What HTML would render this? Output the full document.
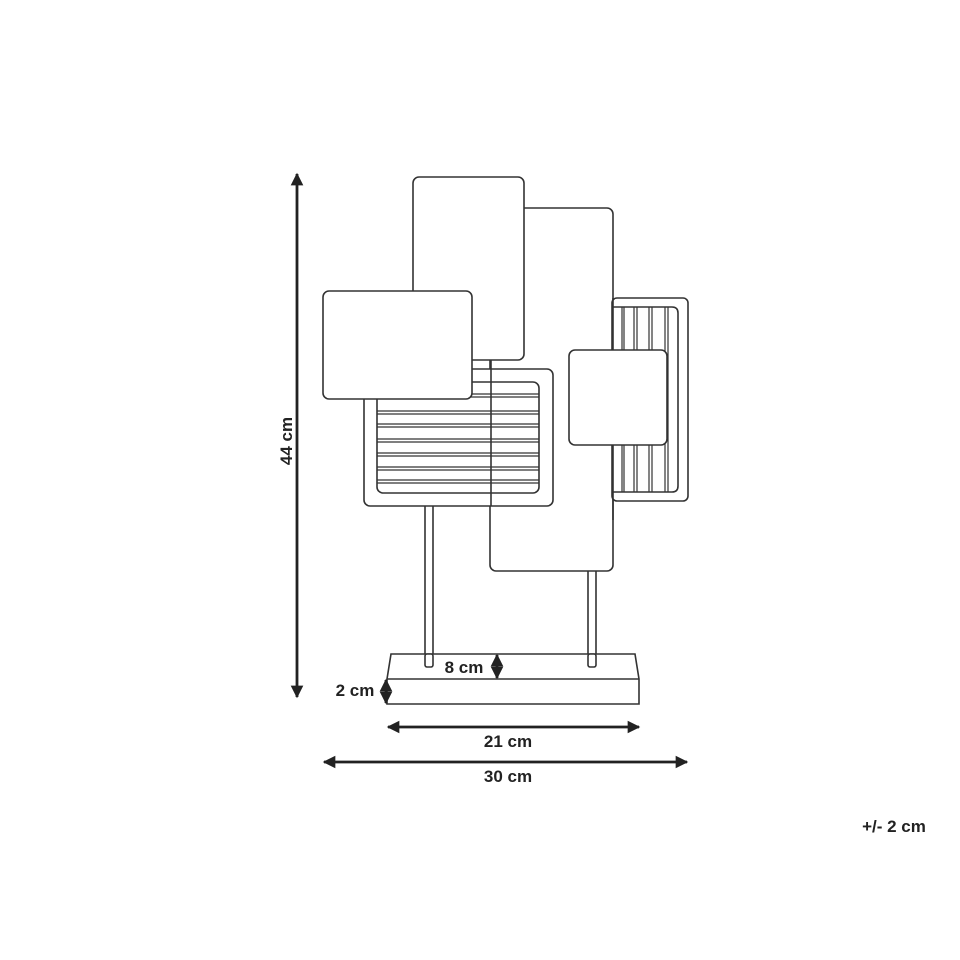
<!DOCTYPE html>
<html><head><meta charset="utf-8"><style>
html,body{margin:0;padding:0;background:#fff;}
svg{display:block;}
text{font-family:"Liberation Sans",sans-serif;font-weight:bold;fill:#222;}
</style></head><body>
<svg width="960" height="960" viewBox="0 0 960 960" xmlns="http://www.w3.org/2000/svg">
<defs>
<marker id="ah" viewBox="0 0 10 10" refX="9" refY="5" markerWidth="4.5" markerHeight="4.5" orient="auto-start-reverse"><path d="M0,0 L10,5 L0,10 z" fill="#222"/></marker>
</defs>
<g fill="none" stroke="#333" stroke-width="1.6">
<rect x="425" y="500" width="8" height="167" rx="3" fill="#fff"/>
<rect x="588" y="560" width="8" height="107" rx="3" fill="#fff"/>
<rect x="490" y="208" width="123" height="363" rx="6" fill="#fff"/>
<rect x="612" y="298" width="76" height="203" rx="5" fill="#fff"/>
<path d="M612,307 H672 Q678,307 678,313 V486 Q678,492 672,492 H612"/>
<g stroke-width="1.2">
<path d="M622,307V492M624,307V492M634,307V492M637,307V492M649,307V492M652,307V492M665,307V492M668,307V492"/>
</g>
<line x1="613" y1="298" x2="613" y2="520"/>
<rect x="413" y="177" width="111" height="183" rx="6" fill="#fff"/>
<rect x="364" y="369" width="189" height="137" rx="6" fill="#fff"/>
<rect x="377" y="382" width="162" height="111" rx="6"/>
<g stroke-width="1.2">
<path d="M377,394H539M377,397H539M377,411H539M377,414H539M377,424H539M377,427H539M377,439H539M377,442H539M377,453H539M377,456H539M377,467H539M377,470H539M377,480H539M377,483H539"/>
</g>
<line x1="491" y1="360" x2="491" y2="506"/>
<rect x="323" y="291" width="149" height="108" rx="6" fill="#fff"/>
<rect x="569" y="350" width="98" height="95" rx="6" fill="#fff"/>
<path d="M391,654 H635 L639,679 V704 H387 V679 Z" fill="#fff"/>
<line x1="387" y1="679" x2="639" y2="679"/>
</g>
<rect x="425" y="654" width="8" height="13" rx="2" fill="#fff" stroke="#333" stroke-width="1.6"/>
<rect x="588" y="654" width="8" height="13" rx="2" fill="#fff" stroke="#333" stroke-width="1.6"/>
<g stroke="#222" stroke-width="2.8" fill="none">
<line x1="297" y1="174" x2="297" y2="697" marker-start="url(#ah)" marker-end="url(#ah)"/>
<line x1="497" y1="655" x2="497" y2="678" marker-start="url(#ah)" marker-end="url(#ah)"/>
<line x1="386" y1="680" x2="386" y2="703" marker-start="url(#ah)" marker-end="url(#ah)"/>
<line x1="388" y1="727" x2="639" y2="727" marker-start="url(#ah)" marker-end="url(#ah)"/>
<line x1="324" y1="762" x2="687" y2="762" marker-start="url(#ah)" marker-end="url(#ah)"/>
</g>
<text x="464" y="673" font-size="17" text-anchor="middle">8 cm</text>
<text x="355" y="696" font-size="17" text-anchor="middle">2 cm</text>
<text x="508" y="747" font-size="17" text-anchor="middle">21 cm</text>
<text x="508" y="782" font-size="17" text-anchor="middle">30 cm</text>
<text x="0" y="0" font-size="17" text-anchor="middle" transform="translate(292,441) rotate(-90)">44 cm</text>
<text x="894" y="832" font-size="17" text-anchor="middle">+/- 2 cm</text>
</svg>
</body></html>
